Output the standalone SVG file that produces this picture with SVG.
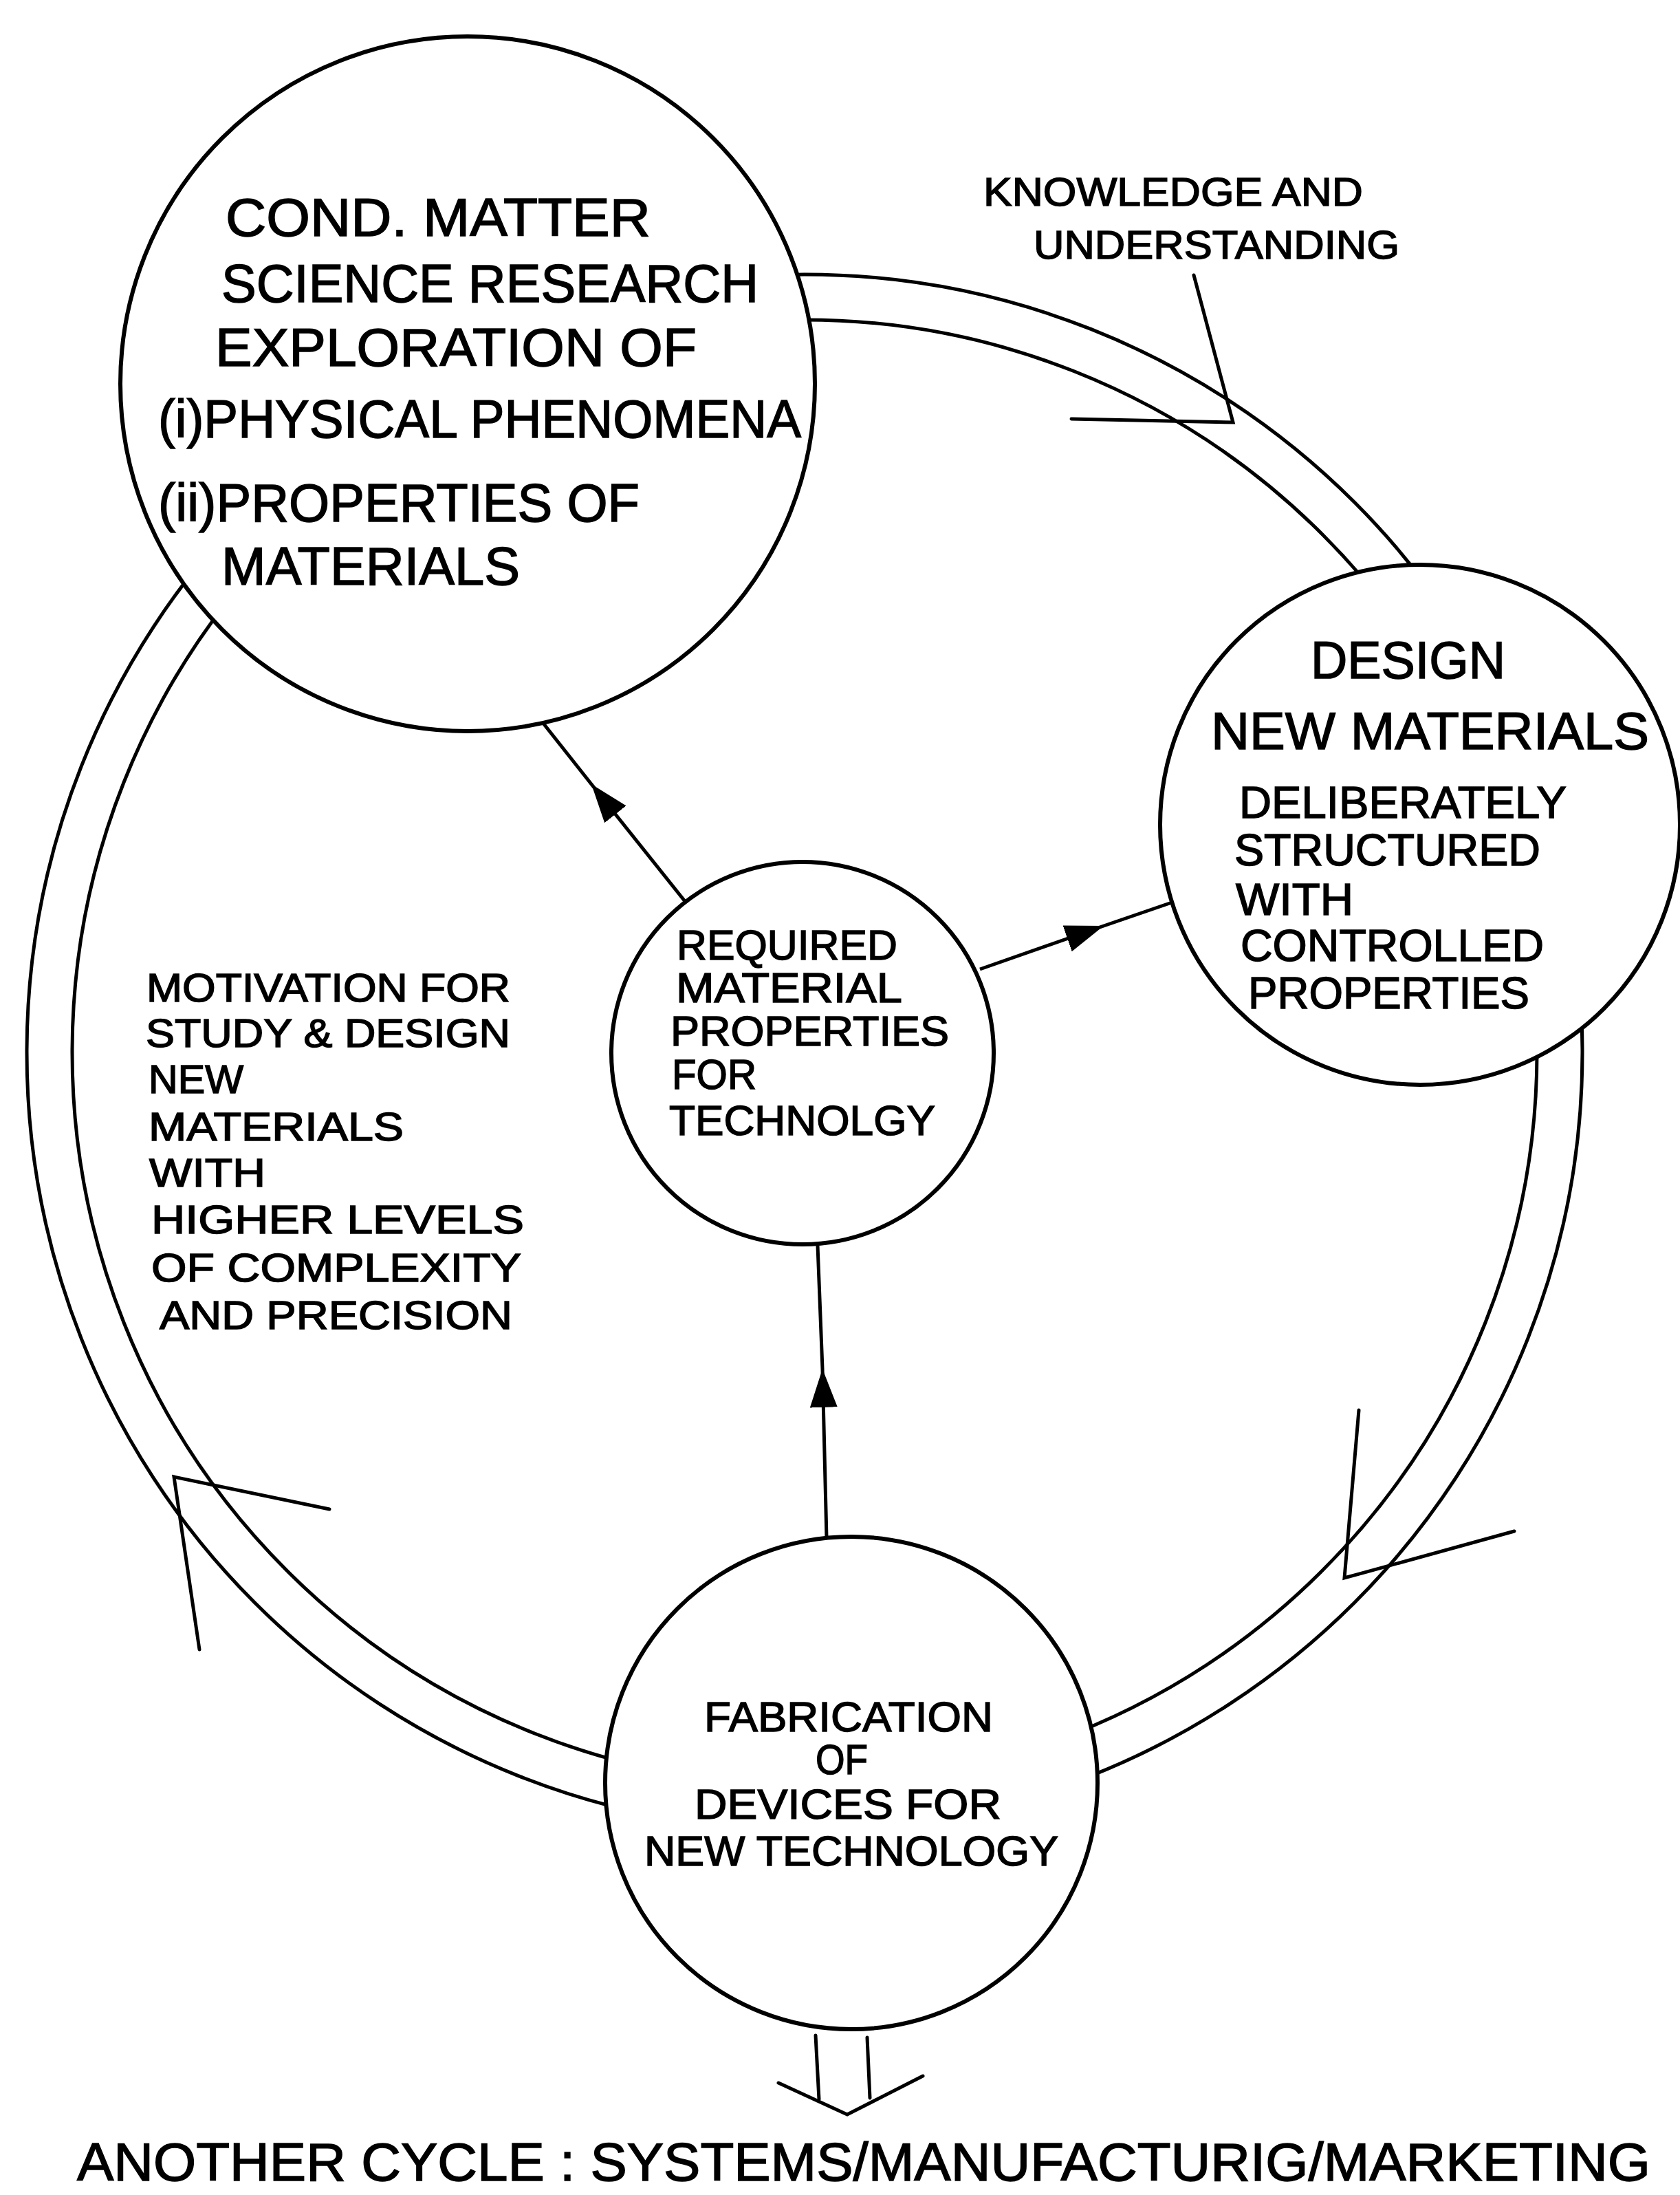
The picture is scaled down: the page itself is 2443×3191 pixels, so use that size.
<svg xmlns="http://www.w3.org/2000/svg" width="2443" height="3191" viewBox="0 0 2443 3191">
<style>
.bg{fill:#fff}
.ring{fill:none;stroke:#000;stroke-width:5}
.node{fill:#fff;stroke:#000;stroke-width:6}
.ln{fill:none;stroke:#000;stroke-width:5;stroke-linecap:round;stroke-linejoin:miter}
.arr{fill:none;stroke:#000;stroke-width:5;marker-mid:url(#tri)}
text{font-family:"Liberation Sans",Arial,sans-serif;fill:#000;stroke:#000;stroke-width:1.5}
.t1{font-size:77px}
.t2{font-size:76px}
.t3{font-size:64px}
.t4{font-size:61px}
.t5{font-size:58px}
.t6{font-size:77px}
.t7{font-size:57px}
</style>
<defs>
<marker id="tri" viewBox="0 0 56 40" refX="56" refY="20" markerWidth="56" markerHeight="40" markerUnits="userSpaceOnUse" orient="auto">
<path d="M0,0 L56,20 L0,40 z" fill="#000"/>
</marker>
</defs>
<rect class="bg" x="0" y="0" width="2443" height="3191"/>
<g id="connectors">
<circle class="ring" cx="1170" cy="1530" r="1131"/>
<circle class="ring" cx="1170" cy="1530" r="1065"/>
<path class="arr" d="M999,1314 L860,1140 L788,1049"/>
<path class="arr" d="M1425,1409 L1605,1346 L1704,1312"/>
<path class="arr" d="M1202,2236 L1196,1990 L1189,1811"/>
<polyline class="ln" points="1736,400 1793,614 1558,609"/>
<polyline class="ln" points="1976,2050 1955,2294 2202,2226"/>
<polyline class="ln" points="290,2398 253,2147 479,2194"/>
<line class="ln" x1="1186" y1="2959" x2="1191" y2="3052"/>
<line class="ln" x1="1261" y1="2962" x2="1265" y2="3050"/>
<polyline class="ln" points="1132,3028 1232,3074 1342,3018"/>
</g>
<g id="node-cmsr">
<circle class="node" cx="680" cy="558" r="505"/>
<text class="t1" x="328" y="343" textLength="618" lengthAdjust="spacingAndGlyphs">COND.  MATTER</text>
<text class="t1" x="322" y="439" textLength="781" lengthAdjust="spacingAndGlyphs">SCIENCE RESEARCH</text>
<text class="t1" x="313" y="532" textLength="700" lengthAdjust="spacingAndGlyphs">EXPLORATION OF</text>
<text class="t1" x="230" y="636" textLength="935" lengthAdjust="spacingAndGlyphs">(i)PHYSICAL PHENOMENA</text>
<text class="t1" x="230" y="758" textLength="700" lengthAdjust="spacingAndGlyphs">(ii)PROPERTIES OF</text>
<text class="t1" x="322" y="850" textLength="434" lengthAdjust="spacingAndGlyphs">MATERIALS</text>
</g>
<g id="node-design">
<circle class="node" cx="2065" cy="1199" r="378"/>
<text class="t2" x="1906" y="986" textLength="283" lengthAdjust="spacingAndGlyphs">DESIGN</text>
<text class="t2" x="1761" y="1089" textLength="637" lengthAdjust="spacingAndGlyphs">NEW MATERIALS</text>
<text class="t3" x="1802" y="1189" textLength="476" lengthAdjust="spacingAndGlyphs">DELIBERATELY</text>
<text class="t3" x="1795" y="1258" textLength="445" lengthAdjust="spacingAndGlyphs">STRUCTURED</text>
<text class="t3" x="1797" y="1330" textLength="171" lengthAdjust="spacingAndGlyphs">WITH</text>
<text class="t3" x="1804" y="1397" textLength="441" lengthAdjust="spacingAndGlyphs">CONTROLLED</text>
<text class="t3" x="1815" y="1466" textLength="409" lengthAdjust="spacingAndGlyphs">PROPERTIES</text>
</g>
<g id="node-required">
<circle class="node" cx="1167" cy="1531" r="278"/>
<text class="t4" x="984" y="1395" textLength="321" lengthAdjust="spacingAndGlyphs">REQUIRED</text>
<text class="t4" x="983" y="1457" textLength="329" lengthAdjust="spacingAndGlyphs">MATERIAL</text>
<text class="t4" x="975" y="1520" textLength="405" lengthAdjust="spacingAndGlyphs">PROPERTIES</text>
<text class="t4" x="977" y="1583" textLength="123" lengthAdjust="spacingAndGlyphs">FOR</text>
<text class="t4" x="973" y="1650" textLength="387" lengthAdjust="spacingAndGlyphs">TECHNOLGY</text>
</g>
<g id="node-fabrication">
<circle class="node" cx="1238" cy="2592" r="358"/>
<text class="t4" x="1024" y="2517" textLength="420" lengthAdjust="spacingAndGlyphs">FABRICATION</text>
<text class="t4" x="1186" y="2579" textLength="76" lengthAdjust="spacingAndGlyphs">OF</text>
<text class="t4" x="1010" y="2644" textLength="446" lengthAdjust="spacingAndGlyphs">DEVICES FOR</text>
<text class="t4" x="937" y="2712" textLength="602" lengthAdjust="spacingAndGlyphs">NEW TECHNOLOGY</text>
</g>
<g id="label-motivation">
<text class="t7" x="213" y="1456" textLength="529" lengthAdjust="spacingAndGlyphs">MOTIVATION FOR</text>
<text class="t7" x="212" y="1522" textLength="530" lengthAdjust="spacingAndGlyphs">STUDY &amp; DESIGN</text>
<text class="t7" x="216" y="1589" textLength="138" lengthAdjust="spacingAndGlyphs">NEW</text>
<text class="t7" x="216" y="1658" textLength="371" lengthAdjust="spacingAndGlyphs">MATERIALS</text>
<text class="t7" x="217" y="1725" textLength="169" lengthAdjust="spacingAndGlyphs">WITH</text>
<text class="t7" x="220" y="1793" textLength="542" lengthAdjust="spacingAndGlyphs">HIGHER LEVELS</text>
<text class="t7" x="220" y="1863" textLength="538" lengthAdjust="spacingAndGlyphs">OF COMPLEXITY</text>
<text class="t7" x="232" y="1932" textLength="513" lengthAdjust="spacingAndGlyphs">AND PRECISION</text>
</g>
<g id="label-knowledge">
<text class="t5" x="1430" y="299" textLength="552" lengthAdjust="spacingAndGlyphs">KNOWLEDGE AND</text>
<text class="t5" x="1503" y="376" textLength="532" lengthAdjust="spacingAndGlyphs">UNDERSTANDING</text>
</g>
<g id="label-another">
<text class="t6" x="112" y="3170" textLength="2288" lengthAdjust="spacingAndGlyphs">ANOTHER CYCLE : SYSTEMS/MANUFACTURIG/MARKETING</text>
</g>
</svg>
